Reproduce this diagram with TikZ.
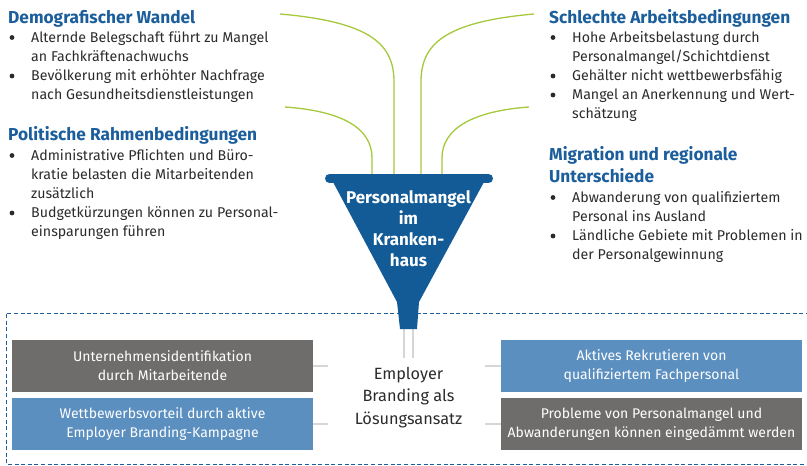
\documentclass[tikz,border=0pt]{standalone}
\usepackage{fontspec}
\setmainfont{Fira Sans}
\usetikzlibrary{positioning}

\definecolor{headblue}{HTML}{1B5E9B}
\definecolor{funnelblue}{HTML}{135B96}
\definecolor{boxblue}{HTML}{5B8FC0}
\definecolor{boxgray}{HTML}{6E6D6B}
\definecolor{stemgray}{HTML}{D6D6D6}
\definecolor{leafgreen}{HTML}{A5C83C}
\definecolor{txtgray}{HTML}{2B2B2B}

\begin{document}
\begin{tikzpicture}[x=1pt,y=-1pt,
  head/.style={anchor=base west,inner sep=0,text=headblue,
    font=\bfseries\fontsize{17.3}{22}\selectfont},
  item/.style={anchor=base west,inner sep=0,align=left,text=txtgray,
    font=\fontsize{14.2}{19.3}\selectfont},
  dot/.style={circle,fill=txtgray,inner sep=0,minimum size=4.8},
  factor/.style={minimum width=301,minimum height=52,inner sep=0,align=center,
    text=white,font=\fontsize{14}{19}\selectfont},
  stalk/.style={leafgreen,line width=1.3},
  link/.style={stemgray,line width=2.6}]
  \useasboundingbox (0,0) rectangle (807,466);

  % left causes (multi-line items sit on their last baseline)
  \node[head] (demo) at (8,23) {Demografischer Wandel};
  \node[item] (demo1) at (31,61.3) {Alternde Belegschaft führt zu Mangel\\an Fachkräftenachwuchs};
  \node[item] (demo2) at (31,99.8) {Bevölkerung mit erhöhter Nachfrage\\nach Gesundheitsdienstleistungen};
  \node[dot] at (12,37.5) {};
  \node[dot] at (12,76) {};

  \node[head] (pol) at (8,140) {Politische Rahmenbedingungen};
  \node[item] (pol1) at (31,198.6) {Administrative Pflichten und Büro-\\kratie belasten die Mitarbeitenden\\zusätzlich};
  \node[item] (pol2) at (31,236.8) {Budgetkürzungen können zu Personal-\\einsparungen führen};
  \node[dot] at (12,155.5) {};
  \node[dot] at (12,213) {};

  % right causes
  \node[head] (arb) at (549,23) {Schlechte Arbeitsbedingungen};
  \node[item] (arb1) at (572,61.3) {Hohe Arbeitsbelastung durch\\Personalmangel/Schichtdienst};
  \node[item] (arb2) at (572,80.5) {Gehälter nicht wettbewerbsfähig};
  \node[item] (arb3) at (572,118.8) {Mangel an Anerkennung und Wert-\\schätzung};
  \node[dot] at (553,37.5) {};
  \node[dot] at (553,76) {};
  \node[dot] at (553,95) {};

  \node[head,align=left] (mig) at (549,182) {Migration und regionale\\Unterschiede};
  \node[item] (mig1) at (572,221.3) {Abwanderung von qualifiziertem\\Personal ins Ausland};
  \node[item] (mig2) at (572,259.8) {Ländliche Gebiete mit Problemen in\\der Personalgewinnung};
  \node[dot] at (553,197.5) {};
  \node[dot] at (553,236) {};

  % stalks into the funnel
  \coordinate (in1) at (372,176);
  \coordinate (in2) at (394,176);
  \coordinate (in3) at (421,176);
  \coordinate (in4) at (442,176);
  \draw[stalk] (280,14) .. controls (372,22) and (394,45) .. (394,82) -- (in2);
  \draw[stalk] (285,107) .. controls (342,111) and (372,128) .. (372,158) -- (in1);
  \draw[stalk] (534,14) .. controls (443,22) and (421,45) .. (421,82) -- (in3);
  \draw[stalk] (529,107) .. controls (474,111) and (442,128) .. (442,158) -- (in4);

  % solution frame
  \draw[headblue,line width=0.9,dash pattern=on 4pt off 2.6pt]
    (810,313) -- (6,313) -- (6,464) -- (810,464);

  % funnel
  \draw[link,line width=2.2] (404,326) -- (404,358);
  \draw[link,line width=2.2] (413,326) -- (413,358);
  \fill[funnelblue] (333,182) -- (484,182) -- (419,302) -- (417,329)
    -- (400,329) -- (397,302) -- cycle;
  \draw[funnelblue,line width=9,line cap=round] (329.5,178.5) -- (488.5,178.5);
  \node[align=center,text=white,inner sep=0,
    font=\bfseries\fontsize{17}{21.2}\selectfont] (mangel) at (408.5,228.5)
    {Personalmangel\\im\\Kranken-\\haus};

  % employer branding
  \node[align=center,text=txtgray,inner sep=0,
    font=\fontsize{16.3}{22.5}\selectfont] (eb) at (408.5,397.5)
    {Employer\\Branding als\\Lösungsansatz};
  \node[factor,fill=boxgray] (ident) at (162.5,366) {Unternehmensidentifikation\\durch Mitarbeitende};
  \node[factor,fill=boxblue] (wett) at (162.5,424) {Wettbewerbsvorteil durch aktive\\Employer Branding-Kampagne};
  \node[factor,fill=boxblue] (rekr) at (651.5,366) {Aktives Rekrutieren von\\qualifiziertem Fachpersonal};
  \node[factor,fill=boxgray] (prob) at (651.5,424) {Probleme von Personalmangel und\\Abwanderungen können eingedämmt werden};

  \draw[link] (ident.east) -- ++(15,0);
  \draw[link] (wett.east) -- ++(15,0);
  \draw[link] (rekr.west) -- ++(-16,0);
  \draw[link] (prob.west) -- ++(-16,0);
\end{tikzpicture}
\end{document}
